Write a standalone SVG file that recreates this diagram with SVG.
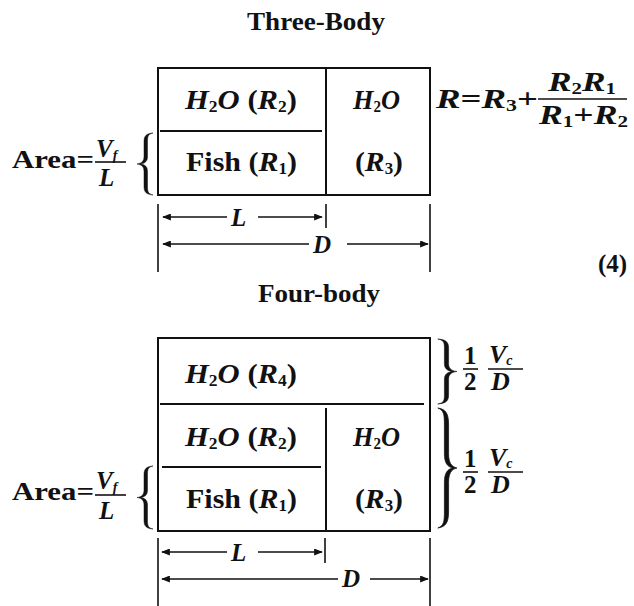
<svg xmlns="http://www.w3.org/2000/svg" width="634" height="606" viewBox="0 0 634 606">
<defs>
<style>
.t{fill:#111;}
.b{font-weight:bold;}
.i{font-style:italic;font-weight:bold;}
.box{fill:none;stroke:#111;stroke-width:2;}
.ln{stroke:#111;stroke-width:2;fill:none;}
.dim{stroke:#111;stroke-width:1.6;fill:none;}
.bar{stroke:#111;stroke-width:1.6;}
.brace{fill:#111;stroke:#111;stroke-width:0.6;}
</style>
<marker id="ah" viewBox="0 0 10 8" refX="9" refY="4" markerWidth="9" markerHeight="7" markerUnits="userSpaceOnUse" orient="auto-start-reverse">
<path d="M0,0 L10,4 L0,8 z" fill="#111"/>
</marker>
<path id="brace" d="M16,0 C9,1 7,5 7,14 L7,38 C7,45 5,49 0,50 C5,51 7,55 7,62 L7,86 C7,95 9,99 16,100 C11,98 10.5,95 10.5,86 L10.5,62 C10.5,55 8.5,51 3.5,50 C8.5,49 10.5,45 10.5,38 L10.5,14 C10.5,5 11,2 16,0 Z"/>
</defs>
<rect width="634" height="606" fill="#fff"/>
<g font-family="Liberation Serif, serif">
<g id="title-three">
<text class="t b" x="247" y="30" font-size="25" textLength="138" lengthAdjust="spacingAndGlyphs">Three-Body</text>
</g>

<g id="three-area">
<text class="t b" x="12" y="168" font-size="26" textLength="82" lengthAdjust="spacingAndGlyphs">Area=</text>
<text class="t i" x="96" y="157" font-size="25">V<tspan font-size="14" dy="3">f</tspan></text>
<line class="bar" x1="95" y1="162" x2="126" y2="162"/>
<text class="t i" x="99" y="186" font-size="25">L</text>
<use href="#brace" class="brace" transform="translate(137,133) scale(1,0.62)"/>
</g>

<g id="three-box">
<rect class="box" x="158" y="68" width="272" height="127"/>
<line class="ln" x1="326" y1="69" x2="326" y2="195"/>
<line class="ln" x1="160" y1="131" x2="322" y2="131"/>
<text class="t" x="185" y="109" font-size="28" textLength="112" lengthAdjust="spacingAndGlyphs"><tspan class="i">H</tspan><tspan class="b" font-size="16" dy="3">2</tspan><tspan class="i" dy="-3">O</tspan><tspan class="b"> (</tspan><tspan class="i">R</tspan><tspan class="b" font-size="16" dy="3">2</tspan><tspan class="b" dy="-3">)</tspan></text>
<text class="t" x="353" y="109" font-size="28" textLength="47" lengthAdjust="spacingAndGlyphs"><tspan class="i">H</tspan><tspan class="b" font-size="16" dy="3">2</tspan><tspan class="i" dy="-3">O</tspan></text>
<text class="t" x="186" y="171" font-size="28" textLength="111" lengthAdjust="spacingAndGlyphs"><tspan class="b">Fish (</tspan><tspan class="i">R</tspan><tspan class="b" font-size="16" dy="3">1</tspan><tspan class="b" dy="-3">)</tspan></text>
<text class="t" x="355" y="171" font-size="28" textLength="48" lengthAdjust="spacingAndGlyphs"><tspan class="b">(</tspan><tspan class="i">R</tspan><tspan class="b" font-size="16" dy="3">3</tspan><tspan class="b" dy="-3">)</tspan></text>
</g>

<g id="three-formula">
<text class="t" x="436" y="108" font-size="27" textLength="102" lengthAdjust="spacingAndGlyphs"><tspan class="i">R</tspan><tspan class="b">=</tspan><tspan class="i">R</tspan><tspan class="b" font-size="16" dy="3">3</tspan><tspan class="b" dy="-3">+</tspan></text>
<text class="t" x="548" y="91" font-size="27" textLength="68" lengthAdjust="spacingAndGlyphs"><tspan class="i">R</tspan><tspan class="b" font-size="16" dy="3">2</tspan><tspan class="i" dy="-3">R</tspan><tspan class="b" font-size="16" dy="3">1</tspan></text>
<line class="bar" x1="538" y1="99" x2="627" y2="99"/>
<text class="t" x="539" y="124" font-size="27" textLength="89" lengthAdjust="spacingAndGlyphs"><tspan class="i">R</tspan><tspan class="b" font-size="16" dy="3">1</tspan><tspan class="b" dy="-3">+</tspan><tspan class="i">R</tspan><tspan class="b" font-size="16" dy="3">2</tspan></text>
</g>

<g id="three-dims">
<line class="dim" x1="158" y1="204" x2="158" y2="272"/>
<line class="dim" x1="326" y1="204" x2="326" y2="228"/>
<line class="dim" x1="430" y1="204" x2="430" y2="272"/>
<text class="t i" x="231" y="226" font-size="25">L</text>
<text class="t i" x="313" y="253" font-size="25">D</text>
</g>

<g id="eq-number">
<text class="t b" x="598" y="272" font-size="25">(4)</text>
</g>

<g id="title-four">
<text class="t b" x="258" y="302" font-size="25" textLength="122" lengthAdjust="spacingAndGlyphs">Four-body</text>
</g>

<g id="four-area">
<text class="t b" x="12" y="500" font-size="26" textLength="82" lengthAdjust="spacingAndGlyphs">Area=</text>
<text class="t i" x="96" y="489" font-size="25">V<tspan font-size="14" dy="3">f</tspan></text>
<line class="bar" x1="95" y1="495" x2="126" y2="495"/>
<text class="t i" x="99" y="519" font-size="25">L</text>
<use href="#brace" class="brace" transform="translate(137,466) scale(1,0.63)"/>
</g>

<g id="four-box">
<rect class="box" x="158" y="338" width="272" height="193"/>
<line class="ln" x1="160" y1="404" x2="424" y2="404"/>
<line class="ln" x1="326" y1="408" x2="326" y2="531"/>
<line class="ln" x1="162" y1="467" x2="321" y2="467"/>
<text class="t" x="185" y="383" font-size="28" textLength="112" lengthAdjust="spacingAndGlyphs"><tspan class="i">H</tspan><tspan class="b" font-size="16" dy="3">2</tspan><tspan class="i" dy="-3">O</tspan><tspan class="b"> (</tspan><tspan class="i">R</tspan><tspan class="b" font-size="16" dy="3">4</tspan><tspan class="b" dy="-3">)</tspan></text>
<text class="t" x="185" y="446" font-size="28" textLength="112" lengthAdjust="spacingAndGlyphs"><tspan class="i">H</tspan><tspan class="b" font-size="16" dy="3">2</tspan><tspan class="i" dy="-3">O</tspan><tspan class="b"> (</tspan><tspan class="i">R</tspan><tspan class="b" font-size="16" dy="3">2</tspan><tspan class="b" dy="-3">)</tspan></text>
<text class="t" x="353" y="446" font-size="28" textLength="47" lengthAdjust="spacingAndGlyphs"><tspan class="i">H</tspan><tspan class="b" font-size="16" dy="3">2</tspan><tspan class="i" dy="-3">O</tspan></text>
<text class="t" x="186" y="508" font-size="28" textLength="111" lengthAdjust="spacingAndGlyphs"><tspan class="b">Fish (</tspan><tspan class="i">R</tspan><tspan class="b" font-size="16" dy="3">1</tspan><tspan class="b" dy="-3">)</tspan></text>
<text class="t" x="355" y="508" font-size="28" textLength="48" lengthAdjust="spacingAndGlyphs"><tspan class="b">(</tspan><tspan class="i">R</tspan><tspan class="b" font-size="16" dy="3">3</tspan><tspan class="b" dy="-3">)</tspan></text>
</g>

<g id="four-right">
<use href="#brace" class="brace" transform="translate(457,339) scale(-1.2,0.65)"/>
<text class="t b" x="464" y="364" font-size="25">1</text>
<line class="bar" x1="463" y1="369" x2="478" y2="369"/>
<text class="t b" x="464" y="390" font-size="25">2</text>
<text class="t i" x="489" y="363" font-size="26">V<tspan font-size="14" dy="2">c</tspan></text>
<line class="bar" x1="488" y1="369" x2="523" y2="369"/>
<text class="t i" x="491" y="390" font-size="26">D</text>
<use href="#brace" class="brace" transform="translate(457,408) scale(-1.2,1.2)"/>
<text class="t b" x="464" y="467" font-size="25">1</text>
<line class="bar" x1="463" y1="472" x2="478" y2="472"/>
<text class="t b" x="464" y="493" font-size="25">2</text>
<text class="t i" x="489" y="466" font-size="26">V<tspan font-size="14" dy="2">c</tspan></text>
<line class="bar" x1="488" y1="472" x2="523" y2="472"/>
<text class="t i" x="491" y="493" font-size="26">D</text>
</g>

<g id="four-dims">
<line class="dim" x1="158" y1="538" x2="158" y2="606"/>
<line class="dim" x1="325" y1="538" x2="325" y2="563"/>
<line class="dim" x1="430" y1="538" x2="430" y2="606"/>
<text class="t i" x="231" y="561" font-size="25">L</text>
<text class="t i" x="342" y="587" font-size="25">D</text>
</g>
</g>
<g id="connectors">
<line class="dim" x1="227" y1="217" x2="163" y2="217" marker-end="url(#ah)"/>
<line class="dim" x1="258" y1="217" x2="322" y2="217" marker-end="url(#ah)"/>
<line class="dim" x1="309" y1="244" x2="163" y2="244" marker-end="url(#ah)"/>
<line class="dim" x1="347" y1="244" x2="428" y2="244" marker-end="url(#ah)"/>
<line class="dim" x1="227" y1="552" x2="162" y2="552" marker-end="url(#ah)"/>
<line class="dim" x1="258" y1="552" x2="322" y2="552" marker-end="url(#ah)"/>
<line class="dim" x1="338" y1="579" x2="162" y2="579" marker-end="url(#ah)"/>
<line class="dim" x1="370" y1="579" x2="428" y2="579" marker-end="url(#ah)"/>
</g>
</svg>
